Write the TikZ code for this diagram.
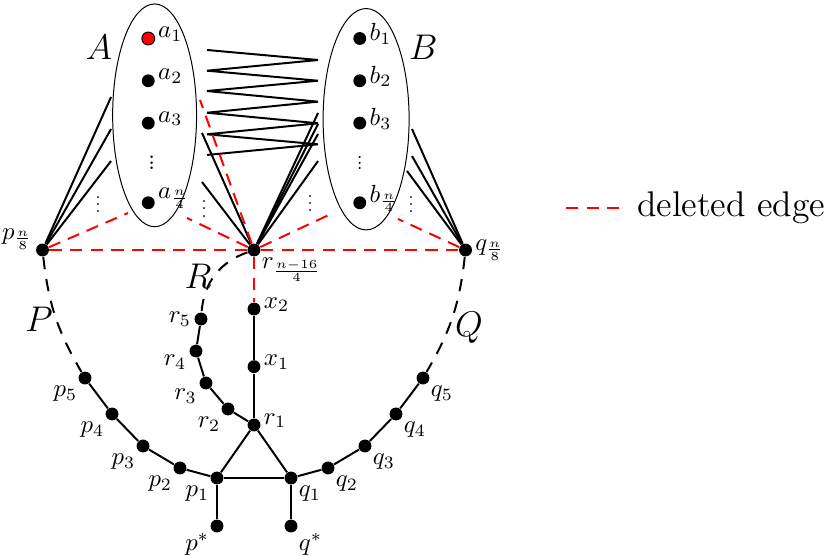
\documentclass[tikz,border=0pt]{standalone}
\usepackage{amsmath, amssymb}
\usepackage{tikz}
\usetikzlibrary{positioning, shapes.geometric}

\begin{document}
\begin{tikzpicture}[
    vtx/.style={circle, fill=black, inner sep=0pt, minimum size=5.2pt},
    marked/.style={circle, draw=black, fill=red, inner sep=0pt, minimum size=5.2pt},
    part/.style={ellipse, draw, inner sep=0pt},
    edge/.style={thick},
    deleted/.style={thick, red, dash pattern=on 5pt off 3.3pt},
    pathseg/.style={thick, dash pattern=on 5pt off 4pt},
    lbl/.style={inner sep=1pt},
    rlbl/.style={inner sep=1pt, yshift=1.8pt},
    big/.style={font=\Large},
    dotsmall/.style={scale=0.72, anchor=base},
    dotbig/.style={scale=0.6, anchor=base}
  ]
  \useasboundingbox (-3.603,-4.340) rectangle (8.255,3.546);

  % The two sets
  \node[part, minimum width=1.19cm, minimum height=3.16cm] (A) at (-1.41, 1.91) {};
  \node[part, minimum width=1.22cm, minimum height=3.14cm] (B) at (1.59, 1.855) {};
  \node[big] (Alab) at (-2.2, 2.87) {$A$};
  \node[big] (Blab) at (2.4, 2.88) {$B$};

  \node[marked, label={[rlbl]right:$a_1$}] (a1) at (-1.5, 3.0) {};
  \node[vtx, label={[rlbl]right:$a_2$}] (a2) at (-1.5, 2.4) {};
  \node[vtx, label={[rlbl]right:$a_3$}] (a3) at (-1.5, 1.8) {};
  \node[dotbig, font=\huge] (adots) at (-1.45, 1.135) {$\vdots$};
  \node[vtx, label={[rlbl]right:$a_{\frac{n}{4}}$}] (an) at (-1.5, 0.67) {};

  \node[vtx, label={[rlbl]right:$b_1$}] (b1) at (1.5, 3.0) {};
  \node[vtx, label={[rlbl]right:$b_2$}] (b2) at (1.5, 2.4) {};
  \node[vtx, label={[rlbl]right:$b_3$}] (b3) at (1.5, 1.8) {};
  \node[dotbig, font=\Large] (bdots) at (1.5, 1.135) {$\vdots$};
  \node[vtx, label={[rlbl]right:$b_{\frac{n}{4}}$}] (bn) at (1.5, 0.67) {};

  % Middle row
  \node[vtx, label={[lbl, yshift=4.5pt]left:$p_{\frac{n}{8}}$}] (pn) at (-3, 0) {};
  \node[vtx, label={[lbl]below right:$r_{\frac{n-16}{4}}$}] (rn) at (0, 0) {};
  \node[vtx, label={[lbl]right:$q_{\frac{n}{8}}$}] (qn) at (3, 0) {};

  \node[dotsmall] (pdots) at (-2.213, 0.525) {$\vdots$};
  \node[dotsmall] (rdotsA) at (-0.709, 0.468) {$\vdots$};
  \node[dotsmall] (rdotsB) at (0.794, 0.539) {$\vdots$};
  \node[dotsmall] (qdots) at (2.227, 0.525) {$\vdots$};

  % Lower part
  \node[vtx, label={[rlbl]right:$x_2$}] (x2) at (0, -0.837) {};
  \node[vtx, label={[rlbl]right:$x_1$}] (x1) at (0, -1.655) {};
  \node[vtx, label={[rlbl]right:$r_1$}] (r1) at (0, -2.482) {};
  \node[vtx, label={[lbl]below left:$r_2$}] (r2) at (-0.369, -2.255) {};
  \node[vtx, label={[lbl]205:$r_3$}] (r3) at (-0.681, -1.887) {};
  \node[vtx, label={[lbl]190:$r_4$}] (r4) at (-0.823, -1.433) {};
  \node[vtx, label={[lbl]left:$r_5$}] (r5) at (-0.752, -0.979) {};

  \node[vtx, label={[lbl]below left:$p_1$}] (p1) at (-0.525, -3.234) {};
  \node[vtx, label={[lbl]below left:$p_2$}] (p2) at (-1.05, -3.092) {};
  \node[vtx, label={[lbl]below left:$p_3$}] (p3) at (-1.574, -2.78) {};
  \node[vtx, label={[lbl]below left:$p_4$}] (p4) at (-2.014, -2.326) {};
  \node[vtx, label={[lbl]below left:$p_5$}] (p5) at (-2.397, -1.816) {};
  \node[vtx, label={[lbl]below left:$p^*$}] (ps) at (-0.525, -3.915) {};

  \node[vtx, label={[lbl]below right:$q_1$}] (q1) at (0.525, -3.234) {};
  \node[vtx, label={[lbl]below right:$q_2$}] (q2) at (1.05, -3.092) {};
  \node[vtx, label={[lbl]below right:$q_3$}] (q3) at (1.574, -2.78) {};
  \node[vtx, label={[lbl]below right:$q_4$}] (q4) at (2.014, -2.326) {};
  \node[vtx, label={[lbl]below right:$q_5$}] (q5) at (2.397, -1.816) {};
  \node[vtx, label={[lbl]below right:$q^*$}] (qs) at (0.525, -3.915) {};

  \node[big] (Plab) at (-3.05, -0.979) {$P$};
  \node[big] (Qlab) at (3.05, -1.107) {$Q$};
  \node[big] (Rlab) at (-0.794, -0.369) {$R$};

  % Ends of the edges at the sets
  \coordinate (pA1) at (-2.028, 2.170);
  \coordinate (pA2) at (-2.028, 1.716);
  \coordinate (pA3) at (-2.028, 1.262);
  \coordinate (rA1) at (-0.738, 1.660);
  \coordinate (rA2) at (-0.738, 0.965);
  \coordinate (rB1) at (0.908, 1.943);
  \coordinate (rB2) at (0.908, 1.787);
  \coordinate (rB3) at (0.908, 1.645);
  \coordinate (rB4) at (0.908, 1.262);
  \coordinate (qB1) at (2.241, 1.716);
  \coordinate (qB2) at (2.241, 1.333);
  \coordinate (qB3) at (2.170, 1.121);
  \coordinate (pAd) at (-1.787, 0.525);
  \coordinate (rAd1) at (-0.950, 0.454);
  \coordinate (rAd2) at (-0.766, 2.128);
  \coordinate (rBd) at (1.121, 0.525);
  \coordinate (qBd) at (2.043, 0.440);

  % Edges between A and B
  \draw[edge] (-0.667, 2.837) -- (0.908, 2.695) -- (-0.667, 2.543) -- (0.908, 2.401)
    -- (-0.667, 2.255) -- (0.908, 2.104) -- (-0.667, 1.947) -- (0.908, 1.797)
    -- (-0.667, 1.641) -- (0.908, 1.499) -- (-0.667, 1.348);

  \draw[edge] (pn) -- (pA1);
  \draw[edge] (pn) -- (pA2);
  \draw[edge] (pn) -- (pA3);
  \draw[edge] (rn) -- (rA1);
  \draw[edge] (rn) -- (rA2);
  \draw[edge] (rn) -- (rB1);
  \draw[edge] (rn) -- (rB2);
  \draw[edge] (rn) -- (rB3);
  \draw[edge] (rn) -- (rB4);
  \draw[edge] (qn) -- (qB1);
  \draw[edge] (qn) -- (qB2);
  \draw[edge] (qn) -- (qB3);

  % Deleted edges
  \draw[deleted] (pn) -- (rn);
  \draw[deleted] (rn) -- (qn);
  \draw[deleted] (pn) -- (pAd);
  \draw[deleted] (rn) -- (rAd1);
  \draw[deleted] (rn) -- (rAd2);
  \draw[deleted] (rn) -- (rBd);
  \draw[deleted] (qn) -- (qBd);
  \draw[deleted] (rn) -- (x2);

  % Paths
  \draw[pathseg] (pn) to[bend right=12] (p5);
  \draw[pathseg] (rn) to[bend right=33] (r5);
  \draw[pathseg] (qn) to[bend left=12] (q5);

  \draw[edge] (x2) -- (x1);
  \draw[edge] (x1) -- (r1);
  \draw[edge] (r1) -- (r2);
  \draw[edge] (r2) -- (r3);
  \draw[edge] (r3) -- (r4);
  \draw[edge] (r4) -- (r5);
  \draw[edge] (r1) -- (p1);
  \draw[edge] (r1) -- (q1);
  \draw[edge] (p1) -- (q1);
  \draw[edge] (p1) -- (p2);
  \draw[edge] (p2) -- (p3);
  \draw[edge] (p3) -- (p4);
  \draw[edge] (p4) -- (p5);
  \draw[edge] (q1) -- (q2);
  \draw[edge] (q2) -- (q3);
  \draw[edge] (q3) -- (q4);
  \draw[edge] (q4) -- (q5);
  \draw[edge] (p1) -- (ps);
  \draw[edge] (q1) -- (qs);

  % Legend
  \coordinate (l1) at (4.426, 0.596);
  \coordinate (l2) at (5.177, 0.596);
  \draw[deleted] (l1) -- (l2);
  \node[font=\Large, inner sep=0pt, right=0.25cm of l2] (leg) {deleted edge};
\end{tikzpicture}
\end{document}
